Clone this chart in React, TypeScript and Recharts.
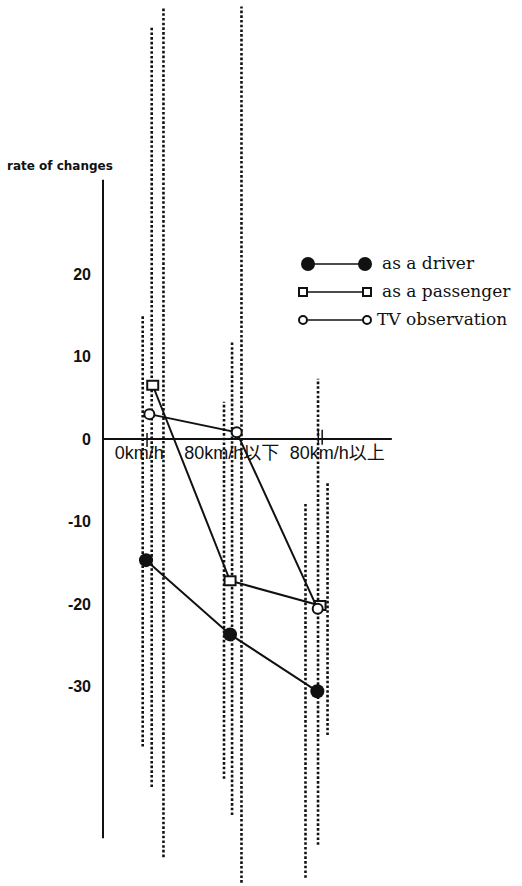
import React from 'react';
import { ComposedChart, XAxis, YAxis, Scatter, ReferenceLine, ReferenceDot } from 'recharts';

const categories = ['0km/h', '80km/h以下', '80km/h以上'];
const driver = [-14.7, -23.7, -30.6];
const passenger = [6.5, -17.2, -20.2];
const tvObservation = [3.0, 0.8, -20.6];
const yTicks = [20, 10, 0, -10, -20, -30];

// dotted vertical ranges, three per category
const rangeLow = [
  [-37.3, -42.2, -50.7],
  [-41.2, -45.6, -53.8],
  [-53.2, -49.2, -35.9],
];
const rangeHigh = [
  [15.0, 49.9, 52.4],
  [4.5, 11.9, 52.4],
  [-7.9, 7.3, -5.3],
];

// layout only: small horizontal shifts around each category
const X_DOMAIN: [number, number] = [0.491, 5.335];
const Y_DOMAIN: [number, number] = [-54.2, 53.2];
const RANGE_SHIFT = [
  [-0.05, 0.054, 0.19],
  [-0.11, -0.017, 0.092],
  [-0.168, -0.023, 0.087],
];
const DRIVER_SHIFT = [-0.012, -0.04, -0.031];
const PASSENGER_SHIFT = [0.066, -0.04, 0];
const TV_SHIFT = [0.027, 0.037, -0.027];
const LABEL_SHIFT = [-0.09, -0.02, 0.2];

const INK = '#111';
const SANS = "'Liberation Sans', 'Noto Sans CJK JP', sans-serif";

const toPoints = (vals: number[], shift: number[]) =>
  vals.map((y, i) => ({ x: i + 1 + shift[i], y }));

const FilledDot = (p: any) => <circle cx={p.cx} cy={p.cy} r={7} fill={INK} />;
const OpenSquare = (p: any) => (
  <rect x={p.cx - 5.5} y={p.cy - 4.5} width={11} height={9} fill="#fff" stroke={INK} strokeWidth={2} />
);
const OpenCircle = (p: any) => (
  <circle cx={p.cx} cy={p.cy} r={5} fill="#fff" stroke={INK} strokeWidth={2} />
);

const legendRows = [
  { name: 'as a driver', y: 264, tx: 382 },
  { name: 'as a passenger', y: 292, tx: 382 },
  { name: 'TV observation', y: 320, tx: 377 },
];

export default function App() {
  return (
    <div style={{ position: 'relative', width: 522, height: 886 }}>
      <style>{'body{margin:0}'}</style>
      <ComposedChart width={522} height={886} margin={{ top: 0, right: 0, bottom: 0, left: 0 }}>
        <XAxis type="number" dataKey="x" domain={X_DOMAIN} allowDataOverflow hide />
        <YAxis
          type="number"
          dataKey="y"
          domain={Y_DOMAIN}
          allowDataOverflow
          ticks={yTicks}
          width={103}
          axisLine={false}
          tickLine={false}
          tickMargin={6}
          tick={{ fill: INK, fontSize: 16, fontWeight: 'bold', fontFamily: SANS }}
        />

        {rangeLow.map((lows, c) =>
          lows.map((lo, k) => (
            <ReferenceLine
              key={`r${c}${k}`}
              segment={[
                { x: c + 1 + RANGE_SHIFT[c][k], y: lo },
                { x: c + 1 + RANGE_SHIFT[c][k], y: rangeHigh[c][k] },
              ]}
              stroke={INK}
              strokeWidth={2.6}
              strokeDasharray="2.6 2.1"
              ifOverflow="visible"
            />
          ))
        )}

        {/* axes */}
        <ReferenceLine segment={[{ x: X_DOMAIN[0], y: 31.4 }, { x: X_DOMAIN[0], y: -48.4 }]} stroke={INK} strokeWidth={2} ifOverflow="visible" />
        <ReferenceLine segment={[{ x: X_DOMAIN[0], y: 0 }, { x: 3.83, y: 0 }]} stroke={INK} strokeWidth={2} ifOverflow="visible" />
        <ReferenceLine segment={[{ x: 1, y: 0.7 }, { x: 1, y: -1.0 }]} stroke={INK} strokeWidth={1.5} ifOverflow="visible" />
        <ReferenceLine segment={[{ x: 2.98, y: 1.1 }, { x: 2.98, y: -0.7 }]} stroke={INK} strokeWidth={1.5} ifOverflow="visible" />
        <ReferenceLine segment={[{ x: 3.025, y: 1.1 }, { x: 3.025, y: -0.7 }]} stroke={INK} strokeWidth={1.5} ifOverflow="visible" />

        {categories.map((c, i) => (
          <ReferenceDot
            key={c}
            x={i + 1 + LABEL_SHIFT[i]}
            y={0}
            r={0}
            fill="none"
            stroke="none"
            ifOverflow="visible"
            label={{ value: c, position: 'bottom', offset: 7, fill: INK, fontSize: 18, fontFamily: SANS }}
          />
        ))}

        <Scatter
          data={toPoints(driver, DRIVER_SHIFT)}
          line={{ stroke: INK, strokeWidth: 2 }}
          shape={FilledDot}
          isAnimationActive={false}
        />
        <Scatter
          data={toPoints(passenger, PASSENGER_SHIFT)}
          line={{ stroke: INK, strokeWidth: 2 }}
          shape={OpenSquare}
          isAnimationActive={false}
        />
        <Scatter
          data={toPoints(tvObservation, TV_SHIFT)}
          line={{ stroke: INK, strokeWidth: 2 }}
          shape={OpenCircle}
          isAnimationActive={false}
        />
      </ComposedChart>

      <svg width={522} height={886} style={{ position: 'absolute', left: 0, top: 0, pointerEvents: 'none' }}>
        <text x={7} y={170} fontSize={12} fontWeight="bold" fontFamily="'DejaVu Sans', sans-serif" fill={INK}>
          rate of changes
        </text>
        {legendRows.map((row, i) => {
          const x1 = i === 0 ? 308 : 303;
          const x2 = i === 0 ? 365 : 367;
          return (
            <g key={row.name}>
              <line x1={x1} x2={x2} y1={row.y} y2={row.y} stroke={INK} strokeWidth={1.5} />
              {i === 0 && (
                <>
                  <FilledDot cx={x1} cy={row.y} />
                  <FilledDot cx={x2} cy={row.y} />
                </>
              )}
              {i === 1 && (
                <>
                  <rect x={x1 - 4} y={row.y - 4} width={8} height={8} fill="#fff" stroke={INK} strokeWidth={2} />
                  <rect x={x2 - 4} y={row.y - 4} width={8} height={8} fill="#fff" stroke={INK} strokeWidth={2} />
                </>
              )}
              {i === 2 && (
                <>
                  <circle cx={x1} cy={row.y} r={4} fill="#fff" stroke={INK} strokeWidth={2} />
                  <circle cx={x2} cy={row.y} r={4} fill="#fff" stroke={INK} strokeWidth={2} />
                </>
              )}
              <text x={row.tx} y={row.y + 5} fontSize={17} fontFamily="'DejaVu Serif', serif" fill={INK}>
                {row.name}
              </text>
            </g>
          );
        })}
      </svg>
    </div>
  );
}
